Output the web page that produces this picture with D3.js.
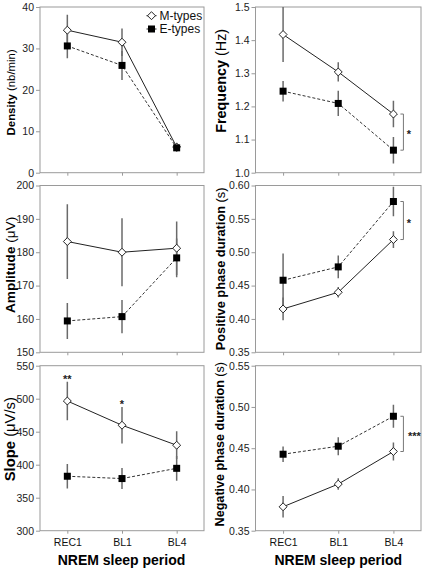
<!DOCTYPE html>
<html><head><meta charset="utf-8">
<script src="https://cdn.jsdelivr.net/npm/d3@7"></script>
<style>body{margin:0;background:#fff}svg{display:block}text{font-family:"Liberation Sans",Arial,sans-serif}</style>
</head><body><svg id="c" width="425" height="571"></svg>
<script>
const periods = ["REC1", "BL1", "BL4"];
const seriesNames = ["M-types", "E-types"];

const densityM = [34.4, 31.5, 6.2], densityMErr = [3.7, 3.3, 1.0];
const densityE = [30.6, 25.9, 6.0], densityEErr = [3.0, 3.5, 0.9];
const densityTicks = [0, 10, 20, 30, 40];

const frequencyM = [1.417, 1.304, 1.177], frequencyMErr = [0.083, 0.029, 0.04];
const frequencyE = [1.246, 1.209, 1.068], frequencyEErr = [0.031, 0.038, 0.04];
const frequencyTicks = [1.0, 1.1, 1.2, 1.3, 1.4, 1.5];

const amplitudeM = [183.2, 180.0, 181.2], amplitudeMErr = [11.2, 10.2, 8.0];
const amplitudeE = [159.4, 160.7, 178.3], amplitudeEErr = [5.4, 5.0, 5.8];
const amplitudeTicks = [150, 160, 170, 180, 190, 200];

const positiveM = [0.415, 0.440, 0.519], positiveMErr = [0.017, 0.008, 0.0125];
const positiveE = [0.458, 0.478, 0.576], positiveEErr = [0.040, 0.017, 0.022];
const positiveTicks = [0.35, 0.40, 0.45, 0.50, 0.55, 0.60];

const slopeM = [496.5, 459.8, 429.5], slopeMErr = [29, 27.5, 21];
const slopeE = [382.5, 379, 394.5], slopeEErr = [18.6, 16, 18.8];
const slopeTicks = [300, 350, 400, 450, 500, 550];

const negativeM = [0.379, 0.4065, 0.446], negativeMErr = [0.013, 0.007, 0.011];
const negativeE = [0.4427, 0.4524, 0.4887], negativeEErr = [0.0095, 0.011, 0.014];
const negativeTicks = [0.35, 0.40, 0.45, 0.50, 0.55];

const panels = [
  {col:0,row:0,bold:"Density",unit:" (nb/min)",fs:11.4,ticks:densityTicks,fmt:d3.format("d"),M:densityM,Me:densityMErr,E:densityE,Ee:densityEErr,legend:true},
  {col:1,row:0,bold:"Frequency",unit:" (Hz)",fs:14.4,ticks:frequencyTicks,fmt:d3.format(".1f"),M:frequencyM,Me:frequencyMErr,E:frequencyE,Ee:frequencyEErr,sig:"*"},
  {col:0,row:1,bold:"Amplitude",unit:" (\u03bcV)",fs:13.6,ticks:amplitudeTicks,fmt:d3.format("d"),M:amplitudeM,Me:amplitudeMErr,E:amplitudeE,Ee:amplitudeEErr},
  {col:1,row:1,bold:"Positive phase duration",unit:" (s)",fs:12.8,ticks:positiveTicks,fmt:d3.format(".2f"),M:positiveM,Me:positiveMErr,E:positiveE,Ee:positiveEErr,sig:"*"},
  {col:0,row:2,bold:"Slope",unit:" (\u03bcV/s)",fs:14.8,ticks:slopeTicks,fmt:d3.format("d"),M:slopeM,Me:slopeMErr,E:slopeE,Ee:slopeEErr,stars:["**","*",""]},
  {col:1,row:2,bold:"Negative phase duration",unit:" (s)",fs:12.6,ticks:negativeTicks,fmt:d3.format(".2f"),M:negativeM,Me:negativeMErr,E:negativeE,Ee:negativeEErr,sig:"***"}
];

const colX = [[40,204],[255.5,421]];
const rowY = [[7,172.7],[185.5,352.3],[365.7,530.7]];
const labelX = [[11,10,10],[221,220,220]];
const labelDy = [[2.5,-4,-9],[-9,0,-4]];

const svg = d3.select("#c");
const frameCol = "#9a9a9a";

panels.forEach(p => {
  const [x0,x1] = colX[p.col], [y0,y1] = rowY[p.row];
  const x = d3.scalePoint().domain(periods).range([x0,x1]).padding(0.5);
  const y = d3.scaleLinear().domain([p.ticks[0], p.ticks[p.ticks.length-1]]).range([y1,y0]);
  const g = svg.append("g");

  g.append("rect").attr("x",x0).attr("y",y0).attr("width",x1-x0).attr("height",y1-y0)
    .attr("fill","none").attr("stroke",frameCol).attr("stroke-width",1);

  const ya = g.append("g").attr("transform",`translate(${x0},0)`)
    .call(d3.axisLeft(y).tickValues(p.ticks).tickFormat(p.fmt).tickSize(4).tickPadding(2));
  ya.select(".domain").remove();
  ya.selectAll("line").attr("stroke",frameCol);
  ya.selectAll("text").attr("font-size",10.5).attr("fill","#222").attr("font-family","Liberation Sans, Arial, sans-serif");

  const xa = g.append("g").attr("transform",`translate(0,${y1})`)
    .call(d3.axisBottom(x).tickSize(3).tickPadding(5));
  xa.select(".domain").remove();
  xa.selectAll("line").attr("stroke",frameCol);
  xa.selectAll("text").attr("font-size",10.5).attr("fill","#111").attr("font-family","Liberation Sans, Arial, sans-serif")
    .style("display", p.row===2 ? null : "none");

  const lx = labelX[p.col][p.row], ly = (y0+y1)/2 + labelDy[p.col][p.row];
  const t = g.append("text").attr("transform",`translate(${lx},${ly}) rotate(-90)`)
    .attr("text-anchor","middle").attr("dominant-baseline","central").attr("font-size",p.fs).attr("fill","#000");
  t.append("tspan").attr("font-weight","bold").text(p.bold);
  t.append("tspan").text(p.unit);

  const clip = "clip"+p.col+p.row;
  g.append("clipPath").attr("id",clip).append("rect").attr("x",x0).attr("y",y0).attr("width",x1-x0).attr("height",y1-y0);
  const inner = g.append("g").attr("clip-path",`url(#${clip})`);

  [[p.M,p.Me],[p.E,p.Ee]].forEach(([v,e]) => {
    inner.selectAll(null).data(periods).enter().append("line")
      .attr("x1",d=>x(d)).attr("x2",d=>x(d))
      .attr("y1",(d,i)=>y(v[i]-e[i])).attr("y2",(d,i)=>y(v[i]+e[i]))
      .attr("stroke","#6a6a6a").attr("stroke-width",1.5);
  });
  const line = v => d3.line().x((d,i)=>x(periods[i])).y(d=>y(d))(v);
  inner.append("path").attr("d",line(p.M)).attr("fill","none").attr("stroke","#222").attr("stroke-width",1);
  inner.append("path").attr("d",line(p.E)).attr("fill","none").attr("stroke","#333").attr("stroke-width",1).attr("stroke-dasharray","3,2");

  const diamond = d3.symbol().type(d3.symbolDiamond2).size(40);
  inner.selectAll(null).data(periods).enter().append("path")
    .attr("d",diamond()).attr("transform",(d,i)=>`translate(${x(d)},${y(p.M[i])})`)
    .attr("fill","#fff").attr("stroke","#222").attr("stroke-width",1);
  inner.selectAll(null).data(periods).enter().append("rect")
    .attr("x",(d,i)=>x(d)-3.5).attr("y",(d,i)=>y(p.E[i])-3.5).attr("width",7).attr("height",7)
    .attr("fill","#000");

  if (p.stars) {
    g.selectAll(null).data(periods).enter().append("text")
      .attr("x",d=>x(d)).attr("y",(d,i)=>y(p.M[i]+p.Me[i])+1)
      .attr("text-anchor","middle").attr("font-size",11).attr("font-weight","bold").attr("fill","#222")
      .text((d,i)=>p.stars[i]);
  }
  if (p.sig) {
    const i = 2, bx = x(periods[2]) + 10;
    const ya1 = y(Math.max(p.M[i],p.E[i])), ya2 = y(Math.min(p.M[i],p.E[i]));
    g.append("path").attr("d",`M${bx-3},${ya1}H${bx}V${ya2}H${bx-3}`).attr("fill","none").attr("stroke","#777").attr("stroke-width",1);
    g.append("text").attr("x",bx + (p.sig.length>1?11:5.5)).attr("y",(ya1+ya2)/2+6)
      .attr("text-anchor","middle").attr("font-size",11).attr("font-weight","bold").attr("fill","#222").text(p.sig);
  }

  if (p.legend) {
    const lg = g.append("g");
    [["M",15.7],["E",29]].forEach(([k,ly2],j) => {
      lg.append("line").attr("x1",146.5).attr("x2",156.5).attr("y1",ly2).attr("y2",ly2).attr("stroke","#222");
      if (k==="M") lg.append("path").attr("d",diamond()).attr("transform",`translate(151.5,${ly2})`).attr("fill","#fff").attr("stroke","#222");
      else lg.append("rect").attr("x",148).attr("y",ly2-3.5).attr("width",7).attr("height",7).attr("fill","#000");
      lg.append("text").attr("x",159.5).attr("y",ly2).attr("dominant-baseline","central").attr("font-size",12).attr("fill","#111").text(seriesNames[j]);
    });
  }
});

[0,1].forEach(c => {
  const [x0,x1] = colX[c];
  svg.append("text").attr("x",(x0+x1)/2 + (c===0?-0.5:0)).attr("y",565).attr("text-anchor","middle")
    .attr("font-size",14).attr("font-weight","bold").attr("fill","#000").text("NREM sleep period");
});
</script></body></html>
